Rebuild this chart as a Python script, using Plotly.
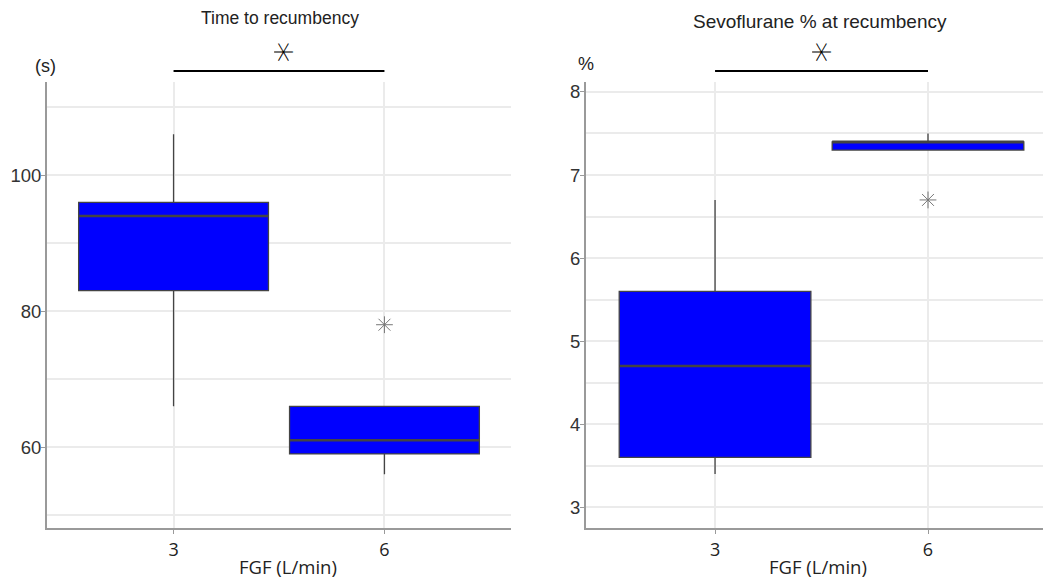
import plotly.graph_objects as go

# ---- data ----
groups = ["3", "6"]
# Time to recumbency (s)
time_low = [66, 56]
time_q1 = [83, 59]
time_med = [94, 61]
time_q3 = [96, 66]
time_high = [106, 66]
time_out_x = ["6"]
time_out_y = [78]
# Sevoflurane % at recumbency
sevo_low = [3.4, 7.3]
sevo_q1 = [3.6, 7.3]
sevo_med = [4.7, 7.4]
sevo_q3 = [5.6, 7.4]
sevo_high = [6.7, 7.5]
sevo_out_x = ["6"]
sevo_out_y = [6.7]

W, H = 1043, 579
BLUE = "#0000FF"
EDGE = "#444444"
GRID = "#EBEBEB"
AX = "#9A9A9A"
BOXW = 0.9

fig = go.Figure()

def add_box(low, q1, med, q3, high, xa, ya):
    fig.add_trace(go.Box(
        x=groups, q1=q1, median=med, q3=q3, lowerfence=low, upperfence=high,
        fillcolor=BLUE, line=dict(color=EDGE, width=1.3), width=BOXW,
        whiskerwidth=0, boxpoints=False, xaxis=xa, yaxis=ya, showlegend=False,
        hoverinfo="skip"))
    # thicker median line (ggplot style)
    for i, m in enumerate(med):
        fig.add_shape(type="line", xref=xa, yref=ya, x0=i - BOXW / 2, x1=i + BOXW / 2,
                      y0=m, y1=m, line=dict(color=EDGE, width=2.6))

def add_out(xs, ys, xa, ya):
    fig.add_trace(go.Scatter(
        x=xs, y=ys, mode="markers", xaxis=xa, yaxis=ya, showlegend=False,
        marker=dict(symbol="asterisk-open", size=14, color="#777777",
                    line=dict(color="#777777", width=1))))

add_box(time_low, time_q1, time_med, time_q3, time_high, "x", "y")
add_out(time_out_x, time_out_y, "x", "y")
add_box(sevo_low, sevo_q1, sevo_med, sevo_q3, sevo_high, "x2", "y2")
add_out(sevo_out_x, sevo_out_y, "x2", "y2")

tickfont_y = dict(family="Liberation Sans, Arial", size=18.5, color="#333333")
tickfont_x = dict(family="Open Sans, Lato", size=18, color="#222222")

xcommon = dict(type="category", categoryorder="array", categoryarray=groups,
               showgrid=True, gridcolor=GRID, gridwidth=1.5,
               showline=True, linecolor=AX, linewidth=2, ticks="outside",
               ticklen=4, tickcolor=AX, tickfont=tickfont_x, zeroline=False,
               fixedrange=True)
ycommon = dict(showgrid=True, gridcolor=GRID, gridwidth=1.5, showline=True,
               linecolor=AX, linewidth=2, ticks="outside", ticklen=4,
               tickcolor=AX, tickfont=tickfont_y, zeroline=False,
               ticklabelstandoff=-4)

top = 1 - 82 / H
bot = 1 - 528 / H
fig.update_layout(
    width=W, height=H, margin=dict(l=0, r=0, t=0, b=0),
    plot_bgcolor="white", paper_bgcolor="white",
    xaxis=dict(domain=[47 / W, 511 / W], anchor="y", range=[-0.6, 1.6], **xcommon),
    yaxis=dict(domain=[bot, top], anchor="x", range=[48.1, 113.7],
               tickvals=[60, 80, 100], minor=dict(showgrid=True, dtick=10, tick0=0, gridcolor=GRID),
               **ycommon),
    xaxis2=dict(domain=[586 / W, 1.0], anchor="y2", range=[-0.606, 1.54], **xcommon),
    yaxis2=dict(domain=[bot, top], anchor="x2", range=[2.75, 8.12],
                tickvals=[3, 4, 5, 6, 7, 8], minor=dict(showgrid=True, dtick=0.5, tick0=0, gridcolor=GRID),
                **ycommon),
)

ann = []
def t(x, y, text, size, family="Liberation Sans, Arial", color="#222222", weight=None, **kw):
    f = dict(size=size, family=family, color=color)
    if weight is not None:
        f["weight"] = weight
    d = dict(x=x, y=y, xref="paper", yref="paper", text=text, showarrow=False,
             font=f, xanchor="center", yanchor="middle")
    d.update(kw)
    ann.append(d)

t(280 / W, 1 - 18 / H, "Time to recumbency", 17.5)
t(820 / W, 1 - 22 / H, "Sevoflurane % at recumbency", 19)
t(45 / W, 1 - 66 / H, "(s)", 18)
t(586 / W, 1 - 64 / H, "%", 18)
t(288 / W, 1 - 566 / H, "FGF (L/min)", 18.5, family="Open Sans, Lato")
t(818 / W, 1 - 566 / H, "FGF (L/min)", 18.5, family="Open Sans, Lato")
t(284 / W, 1 - 52 / H, "∗", 42, family="DejaVu Sans", color="#000000", weight=200,
  textangle=90, height=20, width=24)
t(822 / W, 1 - 52 / H, "∗", 42, family="DejaVu Sans", color="#000000", weight=200,
  textangle=90, height=20, width=24)
fig.update_layout(annotations=ann)

ly = 1 - 71 / H
for xa in ["x", "x2"]:
    fig.add_shape(type="line", xref=xa, yref="paper",
                  x0=groups.index("3"), x1=groups.index("6"), y0=ly, y1=ly,
                  line=dict(color="black", width=2))

fig.write_html("out.html", config={"displayModeBar": False},
               post_script="document.body.style.margin='0px';")
